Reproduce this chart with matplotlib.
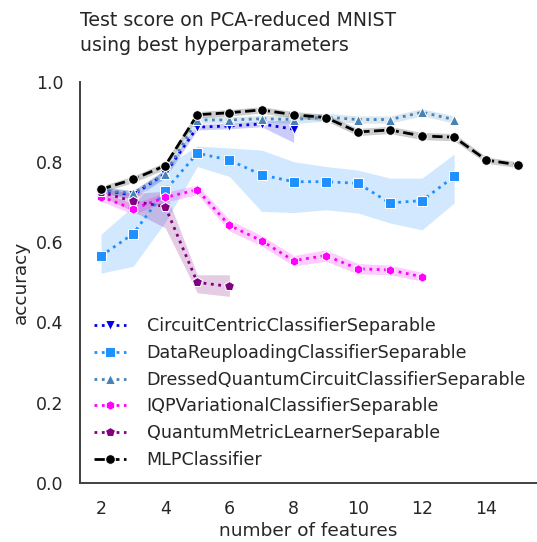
import numpy as np
import matplotlib
matplotlib.use("Agg")
import matplotlib.pyplot as plt
import seaborn as sns

# test accuracy vs number of PCA features
x_cc = [2, 3, 4, 5, 6, 7, 8]
acc_cc = [0.730, 0.718, 0.771, 0.887, 0.890, 0.895, 0.882]
lo_cc = [0.722, 0.708, 0.760, 0.880, 0.883, 0.888, 0.849]
hi_cc = [0.738, 0.728, 0.782, 0.894, 0.897, 0.902, 0.905]

x_dr = [2, 3, 4, 5, 6, 7, 8, 9, 10, 11, 12, 13]
acc_dr = [0.566, 0.621, 0.729, 0.822, 0.805, 0.768, 0.751, 0.751, 0.747, 0.698, 0.704, 0.764]
lo_dr = [0.523, 0.540, 0.650, 0.789, 0.764, 0.677, 0.674, 0.681, 0.673, 0.648, 0.631, 0.698]
hi_dr = [0.620, 0.690, 0.790, 0.840, 0.835, 0.830, 0.801, 0.789, 0.780, 0.760, 0.760, 0.820]

x_dq = [2, 3, 4, 5, 6, 7, 8, 9, 10, 11, 12, 13]
acc_dq = [0.730, 0.722, 0.771, 0.905, 0.905, 0.908, 0.906, 0.912, 0.906, 0.906, 0.924, 0.906]
lo_dq = [0.722, 0.714, 0.762, 0.897, 0.897, 0.900, 0.896, 0.902, 0.897, 0.897, 0.915, 0.897]
hi_dq = [0.738, 0.730, 0.780, 0.913, 0.913, 0.916, 0.916, 0.922, 0.915, 0.915, 0.933, 0.915]

x_iqp = [2, 3, 4, 5, 6, 7, 8, 9, 10, 11, 12]
acc_iqp = [0.714, 0.683, 0.712, 0.731, 0.642, 0.604, 0.554, 0.567, 0.534, 0.531, 0.514]
lo_iqp = [0.702, 0.670, 0.700, 0.719, 0.628, 0.591, 0.541, 0.553, 0.521, 0.519, 0.503]
hi_iqp = [0.726, 0.696, 0.724, 0.743, 0.656, 0.617, 0.567, 0.581, 0.547, 0.543, 0.525]

x_qml = [2, 3, 4, 5, 6]
acc_qml = [0.725, 0.702, 0.689, 0.500, 0.490]
lo_qml = [0.715, 0.677, 0.636, 0.474, 0.465]
hi_qml = [0.735, 0.722, 0.727, 0.519, 0.519]

x_mlp = [2, 3, 4, 5, 6, 7, 8, 9, 10, 11, 12, 13, 14, 15]
acc_mlp = [0.732, 0.757, 0.791, 0.918, 0.923, 0.930, 0.918, 0.911, 0.875, 0.880, 0.865, 0.862, 0.805, 0.793]
lo_mlp = [0.724, 0.749, 0.782, 0.910, 0.915, 0.922, 0.910, 0.903, 0.866, 0.871, 0.856, 0.853, 0.797, 0.786]
hi_mlp = [0.740, 0.765, 0.800, 0.926, 0.931, 0.938, 0.926, 0.919, 0.884, 0.889, 0.874, 0.871, 0.813, 0.800]

sns.set_style("white")
plt.rcParams['font.family'] = ['DejaVu Sans']

fig = plt.figure(figsize=(5.37, 5.42), dpi=100)
ax = fig.add_axes([0.149, 0.109, 0.851, 0.740])

series = [
    ("CircuitCentricClassifierSeparable", x_cc, acc_cc, lo_cc, hi_cc, "#0000ee", "v", ":"),
    ("DataReuploadingClassifierSeparable", x_dr, acc_dr, lo_dr, hi_dr, "#1e90ff", "s", ":"),
    ("DressedQuantumCircuitClassifierSeparable", x_dq, acc_dq, lo_dq, hi_dq, "#4682b4", "^", ":"),
    ("IQPVariationalClassifierSeparable", x_iqp, acc_iqp, lo_iqp, hi_iqp, "#ff00ff", "h", ":"),
    ("QuantumMetricLearnerSeparable", x_qml, acc_qml, lo_qml, hi_qml, "#800080", "p", ":"),
    ("MLPClassifier", x_mlp, acc_mlp, lo_mlp, hi_mlp, "black", "o", "--"),
]

for name, xs, ys, lo, hi, col, mk, ls in series:
    ax.fill_between(xs, lo, hi, color=col, alpha=0.2, linewidth=0)
    ax.plot(xs, ys, color=col, marker=mk, linestyle=ls, linewidth=2,
            markersize=7, markeredgecolor="white", markeredgewidth=0.75, label=name)

ax.set_xlim(1.346, 15.58)
ax.set_ylim(0, 1.0)
ax.set_xticks([2, 4, 6, 8, 10, 12, 14])
ax.set_yticks([0.0, 0.2, 0.4, 0.6, 0.8, 1.0])
ax.tick_params(labelsize=12.5, colors=".15", length=0, pad=12)
ax.set_xlabel("number of features", fontsize=13.3, color=".15", labelpad=3)
ax.set_ylabel("accuracy", fontsize=13.3, color=".15", labelpad=4)
ax.set_title("Test score on PCA-reduced MNIST\nusing best hyperparameters",
             loc="left", fontsize=13.6, color=".15", pad=22, linespacing=1.4)
sns.despine(ax=ax)
for sp in ["left", "bottom"]:
    ax.spines[sp].set_color(".25")
    ax.spines[sp].set_linewidth(1.4)

leg = ax.legend(loc="lower left", borderaxespad=0, fontsize=12.6, labelspacing=0.5,
                handlelength=1.85, handletextpad=1.15, borderpad=0.8,
                frameon=False)

fig.savefig("out.png", dpi=100)
